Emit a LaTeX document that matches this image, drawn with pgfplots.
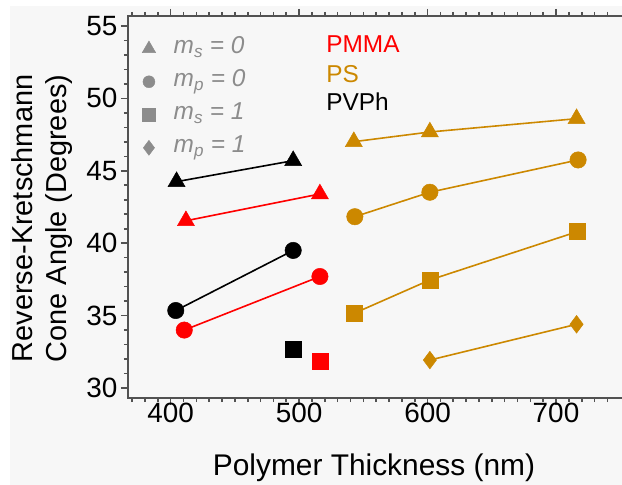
\documentclass[border=0pt]{standalone}
\usepackage{pgfplots}
\pgfplotsset{compat=1.18}
\usepackage{fontspec}
\setmainfont{Liberation Sans}
\definecolor{bg}{RGB}{247,247,247}
\definecolor{psgold}{RGB}{204,136,0}
\definecolor{lgray}{RGB}{140,140,140}
\newcommand{\lgfont}{\fontsize{24.5}{26}\selectfont\itshape}
\begin{document}
\begin{tikzpicture}
\useasboundingbox (-128bp,-87bp) rectangle (494bp,398bp);
\fill[bg] (-118bp,-87bp) rectangle (494bp,392bp);
\begin{axis}[
  scale only axis, width=532bp, height=382bp,
  xmin=366.8, xmax=780.96, ymin=29.31, ymax=55.69,
  axis line style={draw=black!68, line width=1.6bp},
  major tick style={draw=black!68, line width=1.6bp},
  minor tick style={draw=black!68, line width=1.6bp},
  tick align=outside,
  major tick length=7bp, minor tick length=4bp,
  xtick={400,500,600,700}, ytick={30,35,40,45,50,55},
  minor xtick={370,380,390,410,420,430,440,450,460,470,480,490,510,520,530,540,550,560,570,580,590,610,620,630,640,650,660,670,680,690,710,720,730,740},
  minor ytick={30,31,32,33,34,36,37,38,39,41,42,43,44,46,47,48,49,51,52,53,54},
  xtick pos=both, ytick pos=left,
  /pgf/number format/assume math mode=true,
  tick label style={font=\fontsize{28}{30}\selectfont, black},
  xticklabel style={yshift=5bp},
  xlabel={Polymer Thickness (nm)},
  ylabel={Reverse-Kretschmann\\Cone Angle (Degrees)},
  xlabel style={font=\fontsize{30}{34}\selectfont, at={(axis description cs:0.4624,-0.2016)}, anchor=base},
  ylabel style={font=\fontsize{29}{34}\selectfont, at={(axis description cs:-0.161,0.47)}, anchor=center, align=center},
  legend style={at={(axis description cs:0.0263,0.954)}, anchor=north west, draw=none, fill=none,
    text=lgray, row sep=3bp, inner sep=0pt,
    nodes={text height=18bp, text depth=8bp, inner sep=2bp}},
  legend cell align=left,
]
\addlegendimage{only marks, mark=triangle*, mark size=7.8bp, color=lgray}
\addlegendentry{\lgfont\hspace{16bp}m\textsubscript{s}\ =\ 0}
\addlegendimage{only marks, mark=*, mark size=6bp, color=lgray}
\addlegendentry{\lgfont\hspace{16bp}m\textsubscript{p}\ =\ 0}
\addlegendimage{only marks, mark=square*, mark size=6.5bp, color=lgray}
\addlegendentry{\lgfont\hspace{16bp}m\textsubscript{s}\ =\ 1}
\addlegendimage{only marks, mark=diamond*, mark size=7.5bp, color=lgray}
\addlegendentry{\lgfont\hspace{16bp}m\textsubscript{p}\ =\ 1}

% PVPh (black)
\addplot[black, line width=1.6bp, mark=triangle*, mark size=9.8bp, mark options={line width=0.5bp}, forget plot]
  coordinates {(404.6,44.25) (495.4,45.7)};
\addplot[black, line width=1.6bp, mark=*, mark size=8.2bp, mark options={line width=0.5bp}, forget plot]
  coordinates {(404.0,35.35) (495.4,39.5)};
\addplot[black, only marks, mark=square*, mark size=8bp, mark options={line width=0.5bp}, forget plot]
  coordinates {(495.4,32.7)};
% PMMA (red)
\addplot[red, line width=1.6bp, mark=triangle*, mark size=9.8bp, mark options={line width=0.5bp}, forget plot]
  coordinates {(411.9,41.55) (516.2,43.4)};
\addplot[red, line width=1.6bp, mark=*, mark size=8.2bp, mark options={line width=0.5bp}, forget plot]
  coordinates {(410.6,34.0) (516.2,37.7)};
\addplot[red, only marks, mark=square*, mark size=8bp, mark options={line width=0.5bp}, forget plot]
  coordinates {(516.2,31.82)};
% PS (gold)
\addplot[psgold, line width=1.6bp, mark=triangle*, mark size=9.8bp, mark options={line width=0.5bp}, forget plot]
  coordinates {(542.6,47.01) (601.8,47.68) (716.0,48.6)};
\addplot[psgold, line width=1.6bp, mark=*, mark size=8.2bp, mark options={line width=0.5bp}, forget plot]
  coordinates {(543.4,41.83) (601.8,43.52) (717.2,45.75)};
\addplot[psgold, line width=1.6bp, mark=square*, mark size=8bp, mark options={line width=0.5bp}, forget plot]
  coordinates {(542.9,35.16) (601.8,37.46) (716.7,40.8)};
\addplot[psgold, line width=1.6bp, mark=diamond*, mark size=8.8bp, mark options={line width=0.5bp}, forget plot]
  coordinates {(601.8,31.93) (716.0,34.4)};

\node[anchor=base west, text=red, font=\fontsize{24.5}{26}\selectfont] at (axis cs:518.5,53.14) {PMMA};
\node[anchor=base west, text=psgold, font=\fontsize{24.5}{26}\selectfont] at (axis cs:518.5,51.13) {PS};
\node[anchor=base west, text=black, font=\fontsize{24.5}{26}\selectfont] at (axis cs:518.5,49.13) {PVPh};
\end{axis}
\end{tikzpicture}
\end{document}
